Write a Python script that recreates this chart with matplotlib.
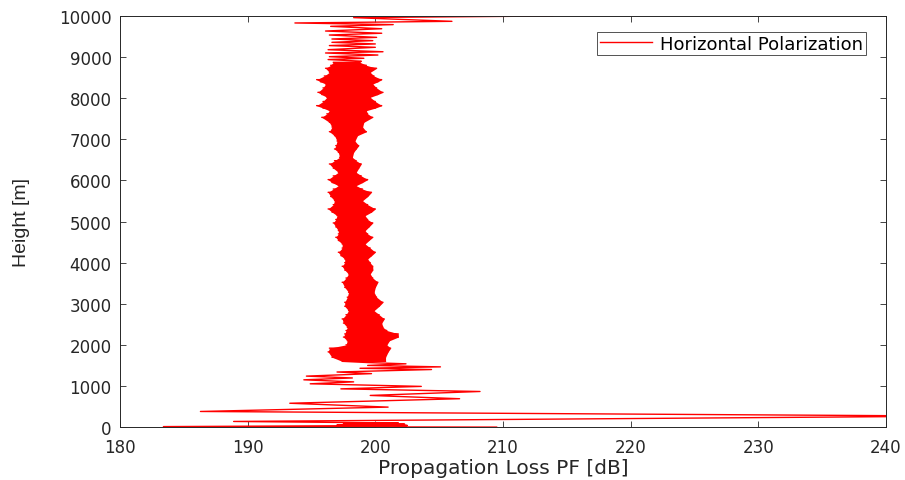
import numpy as np
import matplotlib
matplotlib.use("Agg")
import matplotlib.pyplot as plt

# ---- data ----
# sparse lower part of the curve (height [m], loss [dB])
low_height = [0, 12, 40, 55, 70, 85, 100, 137, 267, 380, 486, 580, 690, 770,
              866, 930, 990, 1053, 1100, 1150, 1195, 1240, 1300, 1340, 1400,
              1430, 1465, 1500, 1539, 1570]
low_loss = [209.5, 183.4, 202.5, 197.0, 202.3, 197.5, 201.8, 188.9, 246.0,
            186.3, 201.0, 193.3, 206.6, 199.6, 208.2, 197.3, 203.6, 194.9,
            198.3, 194.4, 198.2, 194.6, 199.7, 197.0, 204.4, 198.8, 205.1,
            199.4, 202.4, 199.4]

# dense middle part: envelope (left / right extent of the oscillation)
mid_height = [1600, 1700, 1830, 1920, 2000, 2100, 2190, 2266, 2350, 2428,
              2530, 2631, 2733, 2833, 2940, 3036, 3160, 3280, 3400, 3523,
              3626, 3726, 3820, 3912, 4000, 4090, 4170, 4253, 4355, 4455,
              4540, 4617, 4700, 4779, 4870, 4966, 5050, 5144, 5230, 5306,
              5410, 5508, 5610, 5711, 5790, 5873, 5950, 6020, 6110, 6198,
              6300, 6400, 6480, 6563, 6685, 6765, 6846, 6960, 7089, 7186,
              7300, 7413, 7535, 7620, 7697, 7760, 7819, 7920, 8022, 8090,
              8143, 8250, 8346, 8400, 8451, 8540, 8630, 8728, 8800, 8873]
mid_left = [197.4, 196.6, 196.3, 196.4, 197.7, 197.8, 197.5, 197.6, 197.7, 197.8,
            197.5, 197.4, 197.7, 197.9, 197.6, 197.6, 197.8, 197.9, 197.6, 197.4,
            197.7, 197.9, 197.6, 197.4, 197.6, 197.6, 197.3, 197.1, 197.4, 197.4,
            197.1, 196.9, 197.1, 197.1, 196.9, 196.7, 196.9, 197.0, 196.6, 196.3,
            196.7, 196.8, 196.5, 196.3, 196.7, 197.1, 196.6, 196.3, 196.7, 197.1,
            196.7, 196.4, 196.8, 197.2, 197.1, 196.8, 196.9, 197.0, 196.8, 196.4,
            196.6, 196.4, 195.8, 196.2, 196.4, 195.9, 195.4, 195.9, 196.2, 195.8,
            195.5, 195.9, 196.1, 195.7, 195.4, 196.0, 196.4, 196.1, 196.5, 196.7]
mid_right = [200.8, 200.8, 201.0, 201.2, 200.9, 201.1, 201.8, 201.8, 200.9, 200.6,
             200.5, 200.7, 200.3, 199.9, 200.3, 200.6, 200.1, 199.9, 200.0, 200.2,
             199.8, 199.6, 199.8, 199.8, 199.6, 199.4, 199.7, 200.0, 199.6, 199.2,
             199.5, 199.8, 199.4, 199.2, 199.5, 199.8, 199.4, 199.2, 199.7, 200.0,
             199.4, 199.0, 199.4, 199.7, 199.0, 198.5, 199.0, 199.4, 198.9, 198.5,
             198.7, 198.9, 198.5, 198.2, 198.3, 198.5, 198.7, 198.4, 198.6, 199.3,
             199.0, 199.1, 199.8, 199.4, 199.3, 200.0, 200.5, 200.0, 199.6, 200.2,
             200.6, 200.1, 199.8, 200.2, 200.5, 199.9, 199.6, 200.1, 199.3, 198.8]

# sparse upper part of the curve
top_height = [8900, 8940, 8971, 9010, 9050, 9100, 9130, 9180, 9238, 9280, 9320,
              9359, 9400, 9440, 9480, 9537, 9580, 9634, 9690, 9748, 9790, 9830,
              9870, 9960, 10000]
top_loss = [198.9, 196.3, 199.1, 196.4, 200.2, 196.1, 200.6, 196.3, 200.0,
            196.4, 200.0, 196.6, 199.8, 196.6, 200.1, 196.4, 200.5, 196.1,
            200.5, 196.5, 201.4, 193.7, 206.0, 198.3, 213.9]

x_ticks = [180, 190, 200, 210, 220, 230, 240]
y_ticks = [0, 1000, 2000, 3000, 4000, 5000, 6000, 7000, 8000, 9000, 10000]

# ---- build the full path ----
mid_h = np.repeat(mid_height, 2)
mid_x = np.empty(2 * len(mid_height))
mid_x[0::2] = mid_left
mid_x[1::2] = mid_right
heights = np.concatenate([low_height, mid_h, top_height])
losses = np.concatenate([low_loss, mid_x, top_loss])

plt.rcParams['font.family'] = ['DejaVu Sans']
fig = plt.figure(figsize=(9.05, 4.81), dpi=100)
ax = fig.add_axes([0.1326, 0.110, 0.8464, 0.8547])

ax.fill_betweenx(mid_height, mid_left, mid_right, color='#ff0000', lw=0)
ax.plot(losses, heights, color='#ff0000', lw=1.0, label='Horizontal Polarization')

ax.set_xlim(180, 240)
ax.set_ylim(0, 10000)
ax.set_xticks(x_ticks)
ax.set_yticks(y_ticks)
ax.tick_params(direction='in', top=True, right=True, length=4, width=0.6,
               labelsize=12, colors='#262626')
ax.tick_params(axis='x', pad=8)
ax.tick_params(axis='y', pad=6)
for s in ax.spines.values():
    s.set_color('#262626')
    s.set_linewidth(0.7)
ax.set_xlabel('Propagation Loss PF [dB]', fontsize=14.5, color='#262626')
ax.xaxis.set_label_coords(0.5, -0.075)
ax.xaxis.label.set_va('top')
ax.set_ylabel('Height [m]', fontsize=14, color='#262626',
              family=['Liberation Sans', 'DejaVu Sans'])
ax.yaxis.set_label_coords(-0.118, 0.5)

leg = ax.legend(loc='upper right', bbox_to_anchor=(0.974, 0.961),
                borderaxespad=0, fontsize=13, frameon=True, fancybox=False,
                edgecolor='#262626', handlelength=2.9, borderpad=0.15,
                handletextpad=0.45)
leg.get_frame().set_linewidth(0.7)

fig.savefig('out.png', dpi=100)
